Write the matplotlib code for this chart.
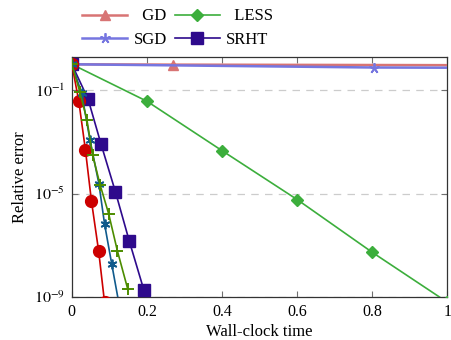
import numpy as np
import matplotlib
matplotlib.use("Agg")
import matplotlib.pyplot as plt
from matplotlib.ticker import FixedLocator, NullLocator, FuncFormatter

plt.rcParams['font.family'] = ['Liberation Serif', 'DejaVu Serif']
plt.rcParams['mathtext.fontset'] = 'stix'

# GD / SGD: nearly flat
gd_x = [0, 0.27, 1.08]
gd_y = [1.0, 0.97, 0.92]
sgd_x = [0, 0.805, 1.6]
sgd_y = [1.0, 0.75, 0.70]

# LESS
less_x = [0, 0.2, 0.4, 0.6, 0.8, 1.0]
less_dec = [0, -1.43, -3.34, -5.23, -7.27, -9.2]

# SRHT
srht_x = [0, 0.043, 0.078, 0.116, 0.153, 0.192]
srht_dec = [0, -1.34, -3.10, -4.93, -6.84, -8.74]

# unlabeled fast methods
red_x = [0, 0.0185, 0.036, 0.052, 0.0713, 0.087]
red_dec = [0, -1.43, -3.30, -5.27, -7.22, -9.2]
blue_x = [0, 0.026, 0.048, 0.072, 0.087, 0.106, 0.126]
blue_dec = [0, -1.11, -2.91, -4.62, -6.17, -7.71, -9.3]
olive_x = [0, 0.021, 0.040, 0.055, 0.075, 0.098, 0.121, 0.149]
olive_dec = [0, -1.06, -2.14, -3.49, -4.65, -5.78, -7.20, -8.70]

x_ticks = [0, 0.2, 0.4, 0.6, 0.8, 1.0]
y_ticks = [1e-9, 1e-5, 1e-1]

fig = plt.figure(figsize=(4.52, 3.4), dpi=100)
ax = fig.add_axes([0.159, 0.126, 0.831, 0.707])

ms = 7.5
ax.plot(gd_x, gd_y, color='#d87474', lw=1.8, marker='^', ms=ms, label='  GD', zorder=3)
ax.plot(sgd_x, sgd_y, color='#7676e0', lw=1.8, marker=(5, 2, 0), ms=ms, mew=1.3, label='SGD', zorder=3)
ax.plot(less_x, 10.0 ** np.array(less_dec), color='#3cae3c', lw=1.2, marker='D', ms=6.5, label='  LESS', zorder=4)
ax.plot(srht_x, 10.0 ** np.array(srht_dec), color='#2e0a8c', lw=1.2, marker='s', ms=8, label='SRHT', zorder=4)
ax.plot(red_x, 10.0 ** np.array(red_dec), color='#cc0000', lw=1.2, marker='o', ms=8.5, zorder=5)
ax.plot(blue_x, 10.0 ** np.array(blue_dec), color='#105a8c', lw=1.2, marker=(6, 2, 0), ms=7, mew=1.3, zorder=5)
ax.plot(olive_x, 10.0 ** np.array(olive_dec), color='#4c8c00', lw=1.2, marker='+', ms=8, mew=1.4, zorder=5)

ax.set_yscale('log')
ax.set_xlim(0, 1)
ax.set_ylim(1e-9, 1.95)
ax.xaxis.set_major_locator(FixedLocator(x_ticks))
ax.xaxis.set_major_formatter(FuncFormatter(lambda v, p: '%g' % v))
ax.yaxis.set_major_locator(FixedLocator(y_ticks))
ax.yaxis.set_minor_locator(NullLocator())
ax.yaxis.set_major_formatter(FuncFormatter(lambda v, p: r'$10^{%d}$' % round(np.log10(v))))
ax.tick_params(direction='in', top=True, right=True, length=4, width=0.8,
               color='#707070', labelsize=11.5, pad=5)
ax.grid(axis='y', color='#cccccc', ls=(0, (6, 5)), lw=0.9)
for s in ax.spines.values():
    s.set_color('#333333')
    s.set_linewidth(0.9)

ax.set_xlabel('Wall-clock time', fontsize=12, labelpad=3)
ax.set_ylabel('Relative error', fontsize=12, labelpad=4)

fig.legend(loc='upper left', bbox_to_anchor=(0.182, 0.975), ncol=2, frameon=False,
           fontsize=12, handlelength=2.7, handletextpad=0.4, columnspacing=0.45,
           labelspacing=0.45, borderpad=0, borderaxespad=0)

fig.savefig('out.png', dpi=100)
